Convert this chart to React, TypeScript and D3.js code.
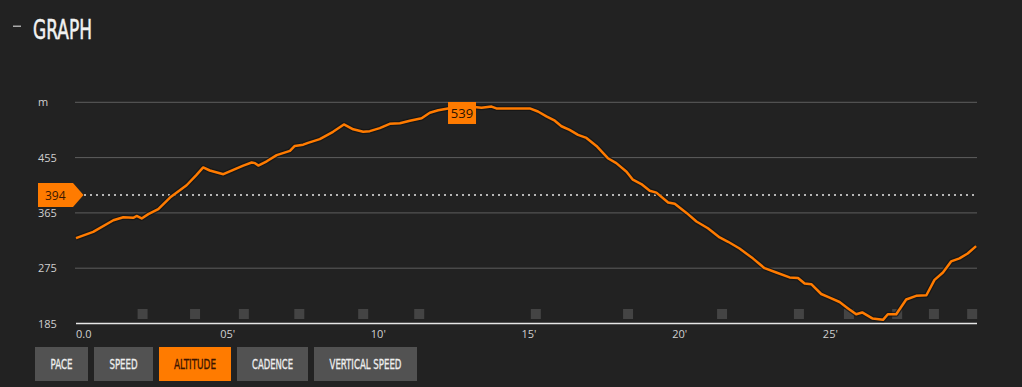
import React, { useEffect } from "react";
import * as d3 from "d3";

// ---- data ----
const minutes = [0, 0.57, 1.24, 1.57, 1.9, 2.01, 2.18, 2.4, 2.73, 3.12, 3.67, 4.0, 4.22, 4.44, 4.89, 5.22, 5.55, 5.83, 5.94, 6.05, 6.33, 6.66, 7.1, 7.26, 7.54, 7.7, 8.09, 8.53, 8.89, 9.2, 9.53, 9.75, 10.08, 10.41, 10.75, 11.08, 11.47, 11.74, 12.02, 12.35, 12.81, 13.29, 13.46, 13.79, 13.95, 15.06, 15.33, 15.61, 15.89, 16.11, 16.38, 16.66, 16.94, 17.27, 17.65, 17.93, 18.27, 18.48, 18.76, 19.04, 19.26, 19.65, 19.87, 20.26, 20.59, 20.97, 21.36, 21.64, 22.02, 22.46, 22.85, 23.24, 23.68, 23.96, 24.18, 24.4, 24.73, 25.01, 25.34, 25.61, 25.89, 26.09, 26.44, 26.78, 26.94, 27.22, 27.55, 27.88, 28.22, 28.49, 28.77, 29.04, 29.32, 29.59, 29.87];
const altitude = [324, 334, 353, 358, 357, 360, 356, 363, 371, 390, 410, 427, 439, 434, 428, 435, 442, 447, 446, 442, 449, 459, 466, 474, 476, 479, 485, 497, 509, 501, 497, 498, 503, 510, 511, 515, 519, 528, 532, 535, 539, 537, 536, 538, 535, 535, 530, 522, 515, 506, 500, 492, 487, 474, 454, 446, 432, 419, 412, 401, 398, 382, 380, 365, 351, 340, 325, 318, 307, 291, 275, 268, 260, 259, 250, 249, 233, 227, 220, 210, 200, 203, 193, 191, 200, 200, 224, 230, 231, 256, 268, 286, 291, 299, 311];
const lapMarks = [2.21, 3.95, 5.57, 7.41, 9.53, 11.39, 15.26, 18.32, 21.44, 23.99, 25.65, 27.25, 28.47, 29.74];
const xTickValues = [0, 5, 10, 15, 20, 25];
const xTickLabels = ["0.0", "05'", "10'", "15'", "20'", "25'"];
const yTickValues = [185, 275, 365, 455, 545];
const yTickLabels = ["185", "275", "365", "455", "m"];
const currentAltitude = 394;
const buttonLabels = ["PACE", "SPEED", "ALTITUDE", "CADENCE", "VERTICAL SPEED"];
const activeButton = "ALTITUDE";
const title = "GRAPH";

// ---- layout ----
const W = 1022;
const H = 387;
const buttonWidths = [53, 59, 72, 71, 103];
const buttonTextWidths = [22, 28, 42, 41, 72];
const BG = "#222222";
const ORANGE = "#ff7b00";
const NARROW = "'Liberation Sans Narrow', 'DejaVu Sans Condensed', 'Roboto', sans-serif";
const SANS = "'Open Sans', 'Noto Sans', sans-serif";

export default function App() {
  useEffect(() => {
    document.body.style.margin = "0";
    document.body.style.background = BG;
    document.body.style.overflow = "hidden";
  }, []);

  const x = d3.scaleLinear().domain([0, 29.9]).range([76, 977]);
  const y = d3.scaleLinear().domain([185, 545]).range([323.5, 102.3]);

  const pts = minutes.map((m, i) => [m, altitude[i]] as [number, number]);
  const line = d3
    .line<[number, number]>()
    .x((d) => x(d[0]))
    .y((d) => y(d[1]));
  const pathD = line(pts) || "";

  const maxIdx = d3.maxIndex(altitude);
  const maxX = x(minutes[maxIdx]);
  const maxY = y(altitude[maxIdx]);

  const cy = y(currentAltitude);

  let bx = 35;
  const buttons = buttonLabels.map((label, i) => {
    const bxi = bx;
    bx += buttonWidths[i] + 6;
    return { label, x: bxi, w: buttonWidths[i], tw: buttonTextWidths[i] };
  });

  return (
    <svg
      width={W}
      height={H}
      style={{ position: "absolute", left: 0, top: 0, display: "block" }}
    >
      <rect x={0} y={0} width={W} height={H} fill={BG} />

      {/* title */}
      <rect x={13} y={25.5} width={8} height={1.5} fill="#aaaaaa" />
      <text
        x={33}
        y={38.5}
        fontFamily={NARROW}
        fontSize={26}
        fill="#f2f2f2"
        stroke="#f2f2f2"
        strokeWidth={0.5}
        textLength={59}
        lengthAdjust="spacingAndGlyphs"
      >
        {title}
      </text>

      {/* gridlines */}
      {yTickValues.slice(1).map((v) => (
        <line key={v} x1={75} x2={977} y1={y(v)} y2={y(v)} stroke="#5e5e5e" strokeWidth={1} />
      ))}
      {/* y labels */}
      {yTickValues.map((v, i) => (
        <text
          key={"yl" + v}
          x={38}
          y={y(v) + 4}
          fontFamily={SANS}
          fontSize={11}
          fill="#d0d0d0"
        >
          {yTickLabels[i]}
        </text>
      ))}

      {/* lap markers */}
      {lapMarks.map((m, i) => (
        <rect key={"lap" + i} x={x(m) - 5} y={309} width={10} height={10} fill="#444444" />
      ))}

      {/* x axis */}
      <line x1={76} x2={977} y1={y(185)} y2={y(185)} stroke="#e6e6e6" strokeWidth={1.5} />
      {xTickValues.map((v, i) => (
        <text
          key={"xl" + v}
          x={i === 0 ? x(v) : x(v) + 1}
          y={337.5}
          fontFamily={SANS}
          fontSize={11}
          fill="#d0d0d0"
          textAnchor={i === 0 ? "start" : "middle"}
        >
          {xTickLabels[i]}
        </text>
      ))}

      {/* current altitude dotted line */}
      <line
        x1={84}
        x2={977}
        y1={cy}
        y2={cy}
        stroke="#e8e8e8"
        strokeWidth={1.5}
        strokeDasharray="2 4"
      />

      {/* altitude line */}
      <path d={pathD} fill="none" stroke="#121212" strokeOpacity={0.7} strokeWidth={5} strokeLinejoin="round" />
      <path d={pathD} fill="none" stroke={ORANGE} strokeWidth={2.5} strokeLinejoin="round" />

      {/* current marker */}
      <path
        d={`M38,${cy - 12} L73,${cy - 12} L83.5,${cy} L73,${cy + 12} L38,${cy + 12} Z`}
        fill={ORANGE}
      />
      <text x={45} y={cy + 4.5} fontFamily={SANS} fontSize={12} fill="#3a1800">
        {currentAltitude}
      </text>

      {/* max label */}
      <rect x={maxX - 14} y={maxY - 4} width={28} height={22} fill={ORANGE} />
      <text
        x={maxX}
        y={maxY + 12}
        fontFamily={SANS}
        fontSize={13}
        fill="#2a1200"
        textAnchor="middle"
      >
        {altitude[maxIdx]}
      </text>

      {/* buttons */}
      {buttons.map((b) => {
        const active = b.label === activeButton;
        const col = active ? "#3a1400" : "#eeeeee";
        return (
          <g key={b.label}>
            <rect x={b.x} y={347} width={b.w} height={34} fill={active ? ORANGE : "#525252"} />
            <text
              x={b.x + b.w / 2}
              y={369.3}
              fontFamily={NARROW}
              fontSize={14}
              fill={col}
              stroke={col}
              strokeWidth={0.3}
              textAnchor="middle"
              textLength={b.tw}
              lengthAdjust="spacingAndGlyphs"
            >
              {b.label}
            </text>
          </g>
        );
      })}
    </svg>
  );
}
